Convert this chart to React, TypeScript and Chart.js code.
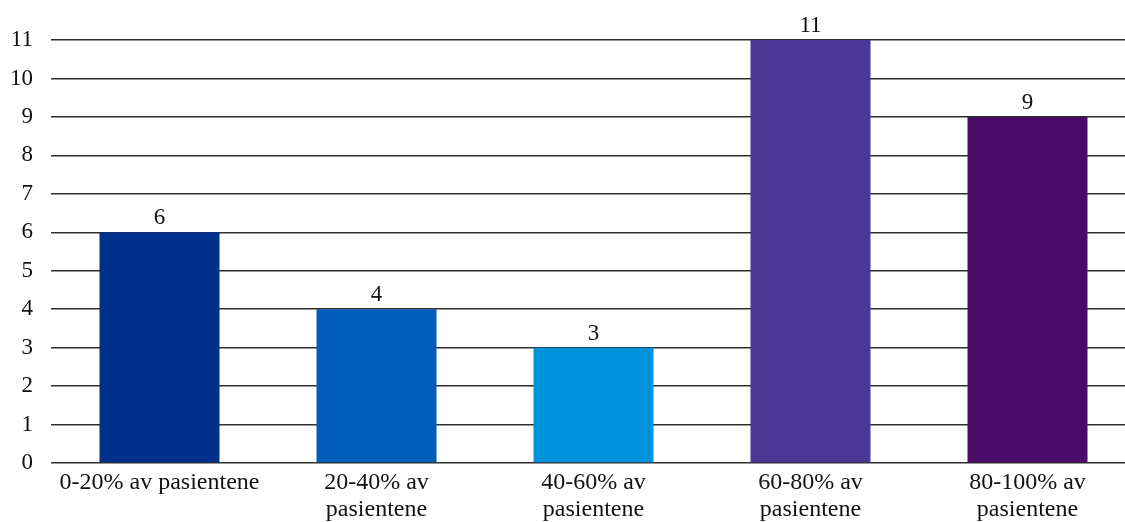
import React, { useEffect, useRef } from "react";
import { Chart, registerables } from "chart.js";

Chart.register(...registerables);

// Share of patients per range, counted per unit
const categories: string[][] = [
  ["0-20% av pasientene"],
  ["20-40% av", "pasientene"],
  ["40-60% av", "pasientene"],
  ["60-80% av", "pasientene"],
  ["80-100% av", "pasientene"],
];
const counts: number[] = [6, 4, 3, 11, 9];
const barColors: string[] = ["#00318A", "#005EB8", "#0092DA", "#4A3796", "#480B66"];
const yTicks: number[] = [0, 1, 2, 3, 4, 5, 6, 7, 8, 9, 10, 11];

const FONT = "'Liberation Serif', 'Times New Roman', serif";

// Writes each bar's value just above the bar
const valueLabels = {
  id: "valueLabels",
  afterDatasetsDraw(chart: any) {
    const ctx = chart.ctx;
    const meta = chart.getDatasetMeta(0);
    ctx.save();
    ctx.font = `23px ${FONT}`;
    ctx.fillStyle = "#111111";
    ctx.textAlign = "center";
    ctx.textBaseline = "alphabetic";
    meta.data.forEach((bar: any, i: number) => {
      ctx.fillText(String(counts[i]), bar.x, bar.y - 8);
    });
    ctx.restore();
  },
};

export default function App() {
  const canvasRef = useRef<HTMLCanvasElement | null>(null);

  useEffect(() => {
    if (!canvasRef.current) return;
    const chart = new Chart(canvasRef.current, {
      type: "bar",
      data: {
        labels: categories,
        datasets: [
          {
            data: counts,
            backgroundColor: barColors,
            borderWidth: 0,
            barPercentage: 0.553,
            categoryPercentage: 1,
          },
        ],
      },
      options: {
        responsive: false,
        animation: false,
        devicePixelRatio: 1,
        layout: { padding: { top: 40, right: 0, left: 0, bottom: 0 } },
        plugins: {
          legend: { display: false },
          tooltip: { enabled: false },
        },
        scales: {
          x: {
            grid: { display: false, drawTicks: false },
            border: { display: false },
            ticks: {
              color: "#111111",
              padding: 6,
              maxRotation: 0,
              autoSkip: false,
              font: { family: FONT, size: 24, lineHeight: 1.125 },
            },
            afterFit: (scale: any) => {
              scale.height = 59;
            },
          },
          y: {
            min: 0,
            max: 11,
            afterBuildTicks: (scale: any) => {
              scale.ticks = yTicks.map((v) => ({ value: v }));
            },
            grid: { color: "#2e2e2e", lineWidth: 1.4, drawTicks: false },
            border: { display: false },
            ticks: {
              color: "#111111",
              padding: 18,
              font: { family: FONT, size: 23 },
            },
            afterFit: (scale: any) => {
              scale.width = 51;
            },
          },
        },
      },
      plugins: [valueLabels],
    });
    return () => chart.destroy();
  }, []);

  return (
    <div
      style={{
        position: "absolute",
        left: 0,
        top: 0,
        width: 1125,
        height: 522,
        overflow: "hidden",
        background: "#ffffff",
      }}
    >
      <canvas ref={canvasRef} width={1136} height={522} style={{ width: 1136, height: 522, display: "block" }} />
    </div>
  );
}
